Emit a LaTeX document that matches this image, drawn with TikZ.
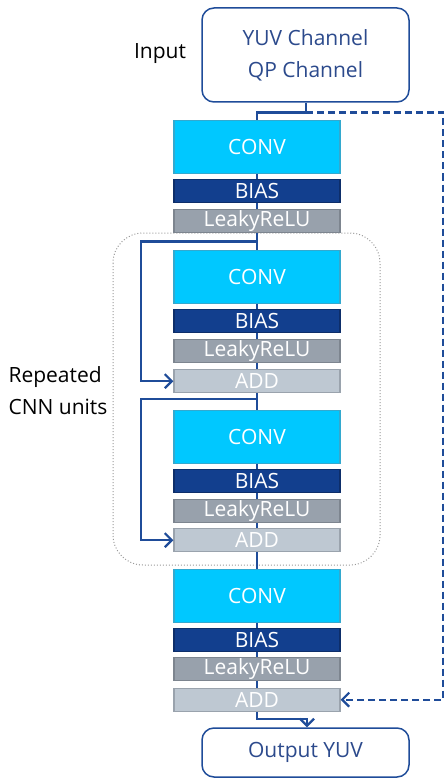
\documentclass[tikz,border=0pt]{standalone}
\usepackage{fontspec}
\setmainfont{Open Sans}
\usetikzlibrary{arrows.meta}
\definecolor{lineblue}{HTML}{1F4C99}
\definecolor{convfill}{HTML}{00C8FF}
\definecolor{convdraw}{HTML}{33A9CF}
\definecolor{biasfill}{HTML}{123F8E}
\definecolor{biasdraw}{HTML}{0D2E6A}
\definecolor{relufill}{HTML}{98A1AC}
\definecolor{reludraw}{HTML}{7D858F}
\definecolor{addfill}{HTML}{BEC8D2}
\definecolor{adddraw}{HTML}{9AA3AD}
\definecolor{txtblue}{HTML}{2C4A8C}
\begin{document}
\begin{tikzpicture}[x=1pt,y=-1pt,
  blk/.style={draw, line width=1.3pt, minimum width=166pt, inner sep=0pt, text=white, font=\fontsize{21}{21}\selectfont, anchor=north},
  convbox/.style={blk, fill=convfill, draw=convdraw, minimum height=53pt},
  biasbox/.style={blk, fill=biasfill, draw=biasdraw, minimum height=23pt},
  relubox/.style={blk, fill=relufill, draw=reludraw, minimum height=23pt},
  addbox/.style={blk, fill=addfill, draw=adddraw, minimum height=23pt},
  iobox/.style={draw=lineblue, line width=1.5pt, rounded corners=12pt, inner sep=0pt, text=txtblue, font=\fontsize{21}{32}\selectfont, align=center},
  conn/.style={draw=lineblue, line width=2.2pt},
  arr/.style={conn, -{Straight Barb[length=7pt,width=14pt,line width=2.2pt]}},
  lbl/.style={font=\fontsize{21}{32}\selectfont, text=black, align=left}
]
\useasboundingbox (0,0) rectangle (445,778);
% dotted container
\draw[gray!80, dotted, line width=1pt, rounded corners=30pt] (113,233) rectangle (380,565);
% input/output
\node[iobox, minimum width=207pt, minimum height=94pt] (in) at (305.5,55) {YUV Channel\\QP Channel};
\node[iobox, minimum width=207pt, minimum height=49pt] (out) at (305.5,752.5) {Output YUV};
\node[lbl, anchor=center] (inputlbl) at (160,54) {Input};
\node[lbl, anchor=west] (replbl) at (5,391) {Repeated\\CNN units};
% unit 1
\node[convbox] (c1) at (257,120) {CONV};
\node[biasbox] (b1) at (257,179) {BIAS};
\node[relubox] (r1) at (257,208.5) {LeakyReLU};
% unit 2
\node[convbox] (c2) at (257,249.5) {CONV};
\node[biasbox] (b2) at (257,308.5) {BIAS};
\node[relubox] (r2) at (257,338.5) {LeakyReLU};
\node[addbox] (a2) at (257,369) {ADD};
% unit 3
\node[convbox] (c3) at (257,409.5) {CONV};
\node[biasbox] (b3) at (257,468.5) {BIAS};
\node[relubox] (r3) at (257,498.5) {LeakyReLU};
\node[addbox] (a3) at (257,528) {ADD};
% unit 4
\node[convbox] (c4) at (257,568.5) {CONV};
\node[biasbox] (b4) at (257,627.5) {BIAS};
\node[relubox] (r4) at (257,657) {LeakyReLU};
\node[addbox] (a4) at (257,687.5) {ADD};
% coordinates
\coordinate (split) at (306,112.5);
\coordinate (sk1) at (257,241.5);
\coordinate (sk2) at (257,399);
% main chain
\draw[conn] (in.south -| split) -- (split) -- (257,112.5) -- (c1.north);
\draw[conn] (c1.south) -- (b1.north);
\draw[conn] (b1.south) -- (r1.north);
\draw[conn] (r1.south) -- (c2.north);
\draw[conn] (c2.south) -- (b2.north);
\draw[conn] (b2.south) -- (r2.north);
\draw[conn] (r2.south) -- (a2.north);
\draw[conn] (a2.south) -- (c3.north);
\draw[conn] (c3.south) -- (b3.north);
\draw[conn] (b3.south) -- (r3.north);
\draw[conn] (r3.south) -- (a3.north);
\draw[conn] (a3.south) -- (c4.north);
\draw[conn] (c4.south) -- (b4.north);
\draw[conn] (b4.south) -- (r4.north);
\draw[conn] (r4.south) -- (a4.north);
% skips
\draw[arr] (sk1) -- (141,241.5) |- (a2.west);
\draw[arr] (sk2) -- (141,399) |- (a3.west);
\draw[arr, dash pattern=on 7pt off 4pt] (split) -- (443,112.5) |- (a4.east);
% output
\draw[arr] (a4.south) -- (257,719) -- (307,719) -- (out.north -| 307,0);
\end{tikzpicture}
\end{document}
